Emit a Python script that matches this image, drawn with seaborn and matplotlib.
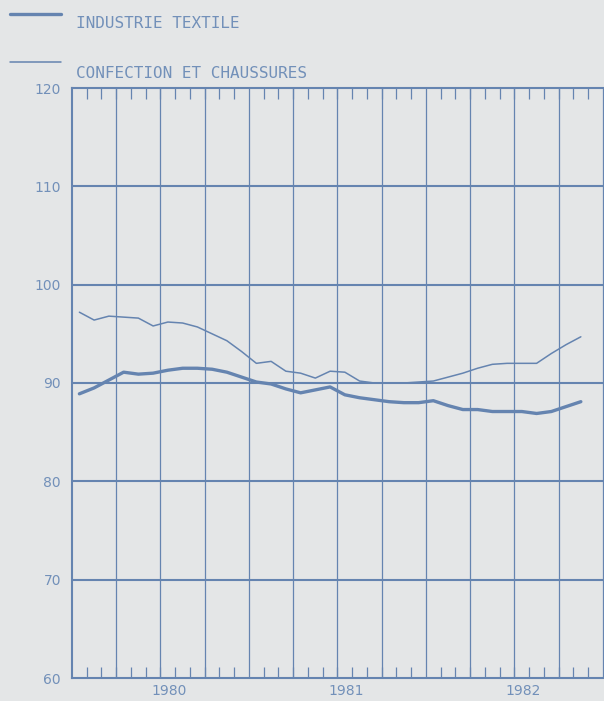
import numpy as np
import pandas as pd
import seaborn as sns
import matplotlib.pyplot as plt
from matplotlib.transforms import blended_transform_factory

# monthly index, Jan 1980 .. Nov 1982
mois = np.arange(35) + 0.5
annees = ['1980', '1981', '1982']

textile = [88.9, 89.5, 90.3, 91.1, 90.9, 91.0, 91.3, 91.5, 91.5, 91.4, 91.1, 90.6,
           90.1, 89.9, 89.4, 89.0, 89.3, 89.6, 88.8, 88.5, 88.3, 88.1, 88.0, 88.0,
           88.2, 87.7, 87.3, 87.3, 87.1, 87.1, 87.1, 86.9, 87.1, 87.6, 88.1]
confection = [97.2, 96.4, 96.8, 96.7, 96.6, 95.8, 96.2, 96.1, 95.7, 95.0, 94.3, 93.2,
              92.0, 92.2, 91.2, 91.0, 90.5, 91.2, 91.1, 90.2, 90.0, 90.0, 90.0, 90.1,
              90.2, 90.6, 91.0, 91.5, 91.9, 92.0, 92.0, 92.0, 93.0, 93.9, 94.7]

bleu = '#6584b0'
texte = '#7290b9'
fond = '#e4e6e7'

sns.set_theme(style='white')
plt.rcParams['font.family'] = ['DejaVu Sans']

fig = plt.figure(figsize=(6.04, 7.01), dpi=100, facecolor=fond)
ax = fig.add_axes([72 / 604, 1 - 678 / 701, 532 / 604, 590 / 701])
ax.set_facecolor(fond)

df = pd.DataFrame({'mois': mois, 'textile': textile, 'confection': confection})
sns.lineplot(data=df, x='mois', y='textile', ax=ax, color=bleu, lw=2.4)
sns.lineplot(data=df, x='mois', y='confection', ax=ax, color=bleu, lw=1.1)

ax.set_xlim(0, 36.07)
ax.set_ylim(60, 120)
ax.set_xlabel('')
ax.set_ylabel('')

# grid: quarters vertically, every 10 horizontally
for q in range(3, 37, 3):
    ax.axvline(q, color=bleu, lw=0.9, zorder=0.5)
for v in range(70, 120, 10):
    ax.axhline(v, color=bleu, lw=1.5, zorder=0.5)

for s in ax.spines.values():
    s.set_color(bleu)
    s.set_linewidth(1.5)
ax.spines['right'].set_visible(False)

ax.set_yticks(range(60, 121, 10))
ax.set_yticklabels([str(v) for v in range(60, 121, 10)], color=texte, fontsize=10)
ax.tick_params(axis='y', length=0, pad=8)

ax.set_xticks([12, 24])
ax.set_xticklabels([])
ax.tick_params(axis='x', which='major', direction='out', length=10, width=1.0, color=bleu)
ax.set_xticks(range(1, 36), minor=True)
ax.tick_params(axis='x', which='minor', direction='in', length=8, width=0.9,
               color=bleu, top=True, bottom=True)

trans = blended_transform_factory(ax.transData, ax.transAxes)
for k, a in enumerate(annees):
    ax.text(k * 12 + 6.6, -0.022, a, transform=trans, ha='center', va='center',
            color=texte, fontsize=10)

# legend drawn as in the original
fig.add_artist(plt.Line2D([10 / 604, 61 / 604], [1 - 14 / 701] * 2, color=bleu, lw=2.4))
fig.add_artist(plt.Line2D([10 / 604, 61 / 604], [1 - 62 / 701] * 2, color=bleu, lw=1.1))
fig.text(76 / 604, 1 - 24 / 701, 'INDUSTRIE TEXTILE', color=texte, fontsize=11.5,
         family='DejaVu Sans Mono', va='center', ha='left')
fig.text(76 / 604, 1 - 73 / 701, 'CONFECTION ET CHAUSSURES', color=texte, fontsize=11.5,
         family='DejaVu Sans Mono', va='center', ha='left')

fig.savefig('out.png', dpi=100, facecolor=fond)
